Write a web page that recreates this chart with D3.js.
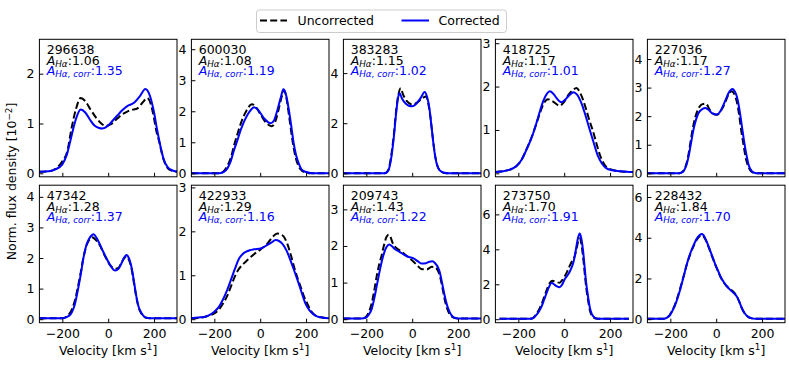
<!DOCTYPE html>
<meta charset="utf-8">
<style>
  body { margin: 0; background: #fff; }
  text { font-family: "DejaVu Sans", sans-serif; font-size: 12.5px; fill: #000; }
  .tick line { stroke: #000; stroke-width: 1; }
  .frame { fill: none; stroke: #000; stroke-width: 1; }
  .uncorr { fill: none; stroke: #000; stroke-width: 2; stroke-dasharray: 7 3.2; }
  .corr { fill: none; stroke: #0000ff; stroke-width: 2; }
</style>
<body>
<svg width="789" height="371"></svg>
<script src="https://d3js.org/d3.v7.min.js"></script>
<script>
// panel ids and Halpha asymmetry values
var galaxyIds = ["296638", "600030", "383283", "418725", "227036",
                 "47342", "422933", "209743", "273750", "228432"];
var aHa     = ["1.06", "1.08", "1.15", "1.17", "1.17", "1.28", "1.29", "1.43", "1.70", "1.84"];
var aHaCorr = ["1.35", "1.19", "1.02", "1.01", "1.27", "1.37", "1.16", "1.22", "1.91", "1.70"];

// upper y limit of each panel, and y tick values
var yTop = [2.69, 4.32, 5.35, 3.09, 4.69, 4.38, 3.05, 3.66, 7.67, 6.58];
var yTicks = [[0,1,2], [0,1,2,3,4], [0,2,4], [0,1,2,3], [0,1,2,3,4],
              [0,1,2,3,4], [0,1,2,3], [0,1,2,3], [0,2,4,6], [0,2,4,6]];
var xTicks = [-200, 0, 200];

// profiles: [velocity km/s, flux 1e-2]
var uncorrected = [
  [[-300,.03],[-260,.04],[-230,.09],[-200,.24],[-178,.45],[-160,.9],[-140,1.3],[-120,1.51],[-100,1.45],[-77,1.28],[-50,1.1],[-30,1.0],[-12,.95],[10,.98],[40,1.1],[60,1.18],[83,1.24],[110,1.28],[126,1.3],[150,1.42],[170,1.51],[185,1.4],[198,1.15],[210,.85],[220,.68],[240,.3],[260,.1],[280,.05],[300,.03]],
  [[-300,0],[-180,0],[-160,.06],[-145,.22],[-128,.5],[-114,.9],[-100,1.25],[-80,1.7],[-60,2.02],[-36,2.23],[-20,2.15],[0,1.92],[20,1.68],[50,1.52],[65,1.65],[80,2.05],[95,2.5],[104,2.68],[115,2.4],[125,1.9],[135,1.35],[145,.86],[155,.5],[168,.22],[180,.1],[197,.03],[220,0],[300,0]],
  [[-300,0],[-120,0],[-105,.12],[-90,.8],[-80,1.55],[-70,2.5],[-60,3.15],[-50,3.4],[-40,3.15],[-25,2.9],[0,2.75],[25,2.85],[45,3.0],[60,3.07],[70,2.8],[80,2.2],[90,1.4],[100,.7],[110,.3],[125,.08],[140,.01],[160,0],[300,0]],
  [[-300,.03],[-266,.05],[-240,.08],[-208,.17],[-185,.32],[-164,.56],[-140,.86],[-121,1.15],[-105,1.4],[-90,1.6],[-71,1.71],[-50,1.66],[-20,1.56],[0,1.65],[20,1.82],[40,1.93],[53,1.97],[70,1.85],[96,1.47],[110,1.22],[125,.98],[140,.7],[154,.45],[170,.25],[185,.14],[210,.08],[241,.05],[292,.03],[300,.03]],
  [[-300,0],[-160,0],[-150,.04],[-142,.1],[-130,.33],[-120,.7],[-110,1.2],[-99,1.7],[-88,2.05],[-75,2.3],[-60,2.42],[-45,2.44],[-30,2.25],[-15,2.1],[3,2.05],[20,2.18],[32,2.35],[45,2.6],[55,2.78],[68,2.87],[80,2.75],[90,2.5],[100,2.05],[110,1.45],[120,.95],[130,.5],[142,.2],[155,.05],[170,.01],[180,0],[300,0]],
  [[-300,.03],[-200,.03],[-179,.1],[-167,.2],[-157,.35],[-145,.62],[-135,.95],[-120,1.52],[-107,2.05],[-96,2.38],[-84,2.58],[-70,2.68],[-55,2.6],[-35,2.4],[-20,2.15],[-6,1.95],[10,1.75],[30,1.65],[45,1.68],[58,1.85],[70,2.0],[80,2.06],[90,1.95],[101,1.68],[112,1.2],[123,.7],[133,.38],[145,.18],[158,.07],[173,.04],[200,.03],[300,.03]],
  [[-300,.02],[-270,.03],[-244,.05],[-220,.09],[-200,.13],[-180,.22],[-164,.34],[-145,.52],[-128,.74],[-110,.98],[-92,1.15],[-75,1.25],[-63,1.31],[-45,1.4],[-27,1.48],[2,1.59],[31,1.72],[55,1.88],[75,1.95],[90,1.93],[104,1.87],[118,1.72],[132,1.49],[150,1.15],[165,.9],[176,.74],[190,.53],[205,.36],[220,.2],[235,.11],[250,.06],[270,.04],[300,.02]],
  [[-300,.02],[-220,.02],[-204,.05],[-190,.18],[-176,.45],[-165,.8],[-154,1.2],[-143,1.52],[-133,1.75],[-122,2.05],[-112,2.25],[-103,2.31],[-95,2.25],[-85,2.08],[-75,1.98],[-55,1.88],[-38,1.8],[-15,1.68],[6,1.57],[25,1.45],[40,1.37],[64,1.36],[85,1.43],[100,1.42],[110,1.35],[120,1.2],[130,.92],[141,.56],[152,.3],[163,.14],[175,.06],[185,.03],[200,.02],[300,.02]],
  [[-282,.02],[-150,.02],[-135,.08],[-121,.3],[-110,.55],[-99,.85],[-88,1.25],[-77,1.65],[-64,2.05],[-52,2.2],[-40,2.15],[-20,2.09],[-8,2.25],[2,2.45],[14,2.75],[24,3.05],[35,3.35],[46,3.62],[55,4.1],[62,4.5],[68,4.63],[75,4.3],[82,3.6],[89,2.7],[96,1.8],[104,1.1],[111,.55],[120,.22],[132,.07],[145,.03],[160,.02],[282,.02]],
  [[-300,.02],[-230,.02],[-214,.09],[-203,.2],[-193,.4],[-182,.66],[-171,1.0],[-156,1.55],[-142,2.12],[-128,2.7],[-113,3.2],[-98,3.6],[-84,3.92],[-72,4.08],[-62,4.12],[-50,3.98],[-41,3.76],[-30,3.45],[-19,3.12],[-5,2.7],[10,2.3],[20,2.05],[32,1.82],[46,1.62],[61,1.47],[75,1.35],[90,1.12],[100,.88],[112,.53],[125,.27],[141,.1],[155,.04],[170,.02],[300,.02]]
];
var corrected = [
  [[-300,.03],[-260,.04],[-230,.08],[-200,.18],[-180,.38],[-160,.75],[-140,1.1],[-120,1.28],[-100,1.22],[-80,1.08],[-60,.96],[-40,.91],[-26,.9],[0,.96],[20,1.06],[40,1.16],[60,1.26],[83,1.35],[111,1.41],[140,1.56],[162,1.69],[180,1.58],[200,1.22],[213,.88],[230,.5],[242,.28],[260,.12],[271,.08],[300,.03]],
  [[-300,0],[-180,0],[-160,.04],[-143,.16],[-128,.4],[-114,.75],[-100,1.05],[-85,1.4],[-56,1.88],[-40,2.05],[-27,2.13],[-10,2.05],[17,1.77],[46,1.61],[60,1.7],[75,2.04],[90,2.45],[101,2.71],[112,2.55],[125,2.04],[135,1.55],[146,.97],[156,.6],[168,.32],[180,.13],[197,.05],[220,.01],[240,0],[300,0]],
  [[-300,0],[-120,0],[-105,.1],[-90,.7],[-80,1.45],[-70,2.4],[-62,3.0],[-55,3.2],[-45,3.0],[-35,2.85],[-15,2.7],[0,2.68],[20,2.8],[40,3.05],[54,3.25],[65,3.05],[75,2.6],[85,1.8],[95,1.0],[105,.45],[120,.12],[140,.02],[160,0],[300,0]],
  [[-300,.03],[-266,.05],[-240,.08],[-208,.17],[-185,.32],[-164,.55],[-140,.85],[-121,1.16],[-105,1.45],[-92,1.66],[-75,1.84],[-63,1.89],[-45,1.82],[-34,1.74],[-12,1.64],[5,1.7],[17,1.77],[41,1.87],[55,1.82],[75,1.62],[95,1.3],[111,1.01],[130,.68],[147,.4],[165,.22],[183,.12],[210,.07],[241,.05],[292,.03],[300,.03]],
  [[-300,0],[-160,0],[-150,.03],[-142,.08],[-130,.28],[-120,.6],[-110,1.05],[-99,1.53],[-88,1.88],[-77,2.11],[-60,2.25],[-48,2.29],[-30,2.2],[-19,2.11],[3,2.06],[20,2.2],[32,2.4],[45,2.65],[54,2.81],[71,2.95],[80,2.88],[90,2.69],[100,2.3],[112,1.65],[122,1.1],[133,.6],[143,.25],[155,.08],[170,.01],[180,0],[300,0]],
  [[-300,.03],[-200,.03],[-179,.08],[-165,.15],[-157,.25],[-145,.5],[-135,.85],[-120,1.45],[-107,2.04],[-96,2.4],[-86,2.59],[-75,2.72],[-64,2.78],[-50,2.65],[-35,2.42],[-20,2.18],[-6,1.97],[10,1.75],[30,1.59],[45,1.65],[58,1.83],[70,2.02],[80,2.1],[90,2.0],[101,1.72],[112,1.25],[123,.74],[133,.4],[145,.2],[158,.08],[173,.04],[200,.03],[300,.03]],
  [[-300,.02],[-270,.04],[-244,.05],[-220,.1],[-200,.17],[-180,.28],[-164,.43],[-145,.65],[-128,.89],[-110,1.15],[-92,1.38],[-75,1.49],[-63,1.53],[-45,1.57],[-27,1.59],[2,1.61],[31,1.69],[50,1.75],[67,1.8],[82,1.78],[96,1.72],[115,1.56],[132,1.34],[150,1.08],[168,.81],[183,.57],[197,.36],[215,.2],[233,.11],[250,.06],[270,.04],[300,.02]],
  [[-300,.02],[-220,.02],[-204,.04],[-190,.12],[-176,.29],[-165,.58],[-154,.93],[-143,1.28],[-133,1.57],[-122,1.82],[-112,1.97],[-100,2.04],[-88,1.99],[-75,1.91],[-55,1.84],[-38,1.77],[-15,1.7],[6,1.66],[25,1.58],[42,1.52],[60,1.53],[75,1.57],[88,1.58],[100,1.53],[112,1.42],[120,1.29],[130,1.0],[141,.66],[152,.38],[163,.2],[175,.08],[185,.04],[200,.02],[300,.02]],
  [[-282,.02],[-150,.02],[-135,.07],[-121,.25],[-110,.45],[-99,.72],[-88,1.1],[-77,1.49],[-66,1.85],[-55,2.09],[-45,2.0],[-34,1.9],[-20,1.83],[-8,2.0],[2,2.29],[14,2.5],[24,2.72],[32,2.95],[39,3.2],[46,3.6],[53,4.15],[60,4.65],[68,4.91],[75,4.6],[82,3.96],[89,3.0],[96,2.06],[104,1.3],[111,.72],[120,.3],[132,.1],[145,.03],[160,.02],[282,.02]],
  [[-300,.02],[-230,.02],[-214,.08],[-203,.18],[-193,.37],[-182,.62],[-171,.95],[-156,1.5],[-142,2.09],[-128,2.7],[-113,3.24],[-98,3.65],[-84,3.97],[-72,4.13],[-62,4.18],[-50,4.03],[-41,3.8],[-30,3.48],[-19,3.15],[-5,2.72],[10,2.33],[20,2.07],[32,1.84],[46,1.62],[61,1.44],[75,1.3],[90,1.11],[100,.88],[112,.54],[125,.28],[141,.1],[155,.04],[170,.02],[300,.02]]
];

var svg = d3.select("svg");
var pw = 137.6, ph = 137.5;
var intFmt = d3.format("d");

galaxyIds.forEach(function(id, i) {
  var row = Math.floor(i / 5), col = i % 5;
  var left = 39.4 + col * 152, top = row === 0 ? 39.3 : 185.2;

  var x = d3.scaleLinear().domain([-300, 300]).range([0, pw]);
  var y = d3.scaleLinear().domain([-0.026 * yTop[i], yTop[i]]).range([ph, 0]);

  var g = svg.append("g").attr("transform", "translate(" + left + "," + top + ")");

  var line = d3.line()
    .x(function(d) { return x(d[0]); })
    .y(function(d) { return y(d[1]); })
    .curve(d3.curveMonotoneX);

  g.append("path").attr("class", "uncorr").attr("d", line(uncorrected[i]));
  g.append("path").attr("class", "corr").attr("d", line(corrected[i]));

  // inward ticks
  var xa = d3.axisBottom(x).tickValues(xTicks).tickSize(-4).tickPadding(6.5);
  if (row === 0) xa.tickFormat("");
  g.append("g").attr("transform", "translate(0," + ph + ")").call(xa)
    .call(function(s) { s.select(".domain").remove(); s.selectAll("text").attr("font-size", null).attr("font-family", null); });

  var ya = d3.axisLeft(y).tickValues(yTicks[i]).tickFormat(intFmt).tickSize(-4).tickPadding(5);
  g.append("g").call(ya)
    .call(function(s) { s.select(".domain").remove(); s.selectAll("text").attr("font-size", null).attr("font-family", null); });

  g.append("rect").attr("class", "frame").attr("width", pw).attr("height", ph);

  // annotations
  var tx = 7.3;
  g.append("text").attr("x", tx).attr("y", 14.7).text(id);
  var t2 = g.append("text").attr("x", tx).attr("y", 25.5);
  t2.append("tspan").attr("font-style", "italic").text("A");
  t2.append("tspan").attr("font-style", "italic").attr("font-size", 8.8).attr("dy", 2.2).text("Hα");
  t2.append("tspan").attr("dy", -2.2).text(":" + aHa[i]);
  var t3 = g.append("text").attr("x", tx).attr("y", 35.7).style("fill", "#0000ff");
  t3.append("tspan").attr("font-style", "italic").text("A");
  t3.append("tspan").attr("font-style", "italic").attr("font-size", 8.8).attr("dy", 2.2).text("Hα, corr");
  t3.append("tspan").attr("dy", -2.2).text(":" + aHaCorr[i]);

  if (row === 1) {
    var xl = g.append("text").attr("x", pw / 2).attr("y", 355 - top).attr("text-anchor", "middle");
    xl.append("tspan").text("Velocity [km s");
    xl.append("tspan").attr("font-size", 8.8).attr("dy", -4.5).text("1");
    xl.append("tspan").attr("dy", 4.5).text("]");
  }
});

// shared y label
var yl = svg.append("text").attr("transform", "translate(16,181.5) rotate(-90)").attr("text-anchor", "middle");
yl.append("tspan").text("Norm. flux density [10");
yl.append("tspan").attr("font-size", 8.8).attr("dy", -4.5).text("−2");
yl.append("tspan").attr("dy", 4.5).text("]");

// legend
var lg = svg.append("g");
lg.append("rect").attr("x", 256.5).attr("y", 10).attr("width", 250).attr("height", 22.5)
  .attr("rx", 3).attr("fill", "#fff").attr("stroke", "#cccccc").attr("stroke-width", 1);
lg.append("line").attr("class", "uncorr").attr("x1", 260).attr("x2", 287).attr("y1", 20.5).attr("y2", 20.5);
lg.append("text").attr("x", 297.5).attr("y", 25.3).text("Uncorrected");
lg.append("line").attr("class", "corr").attr("x1", 401.5).attr("x2", 429).attr("y1", 20.5).attr("y2", 20.5);
lg.append("text").attr("x", 438.5).attr("y", 25.3).text("Corrected");
</script>
</body>
